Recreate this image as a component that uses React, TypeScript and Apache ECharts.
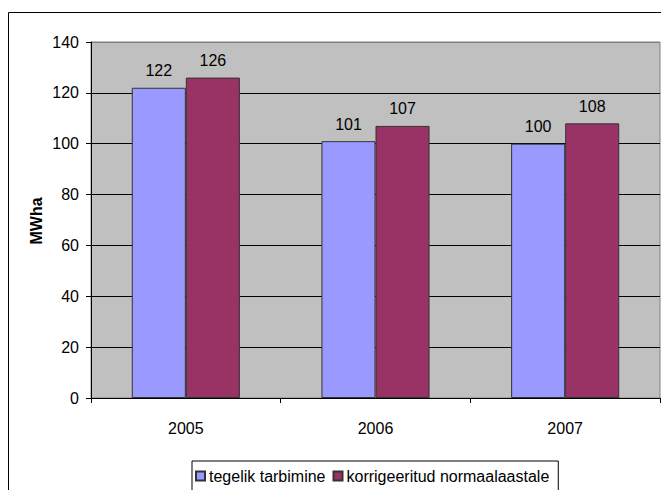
import React, { useEffect, useRef } from "react";
import * as echarts from "echarts";

const categories = ["2005", "2006", "2007"];
const actualValues = [122, 101, 100];
const normalizedValues = [126, 107, 108];
const seriesNames = ["tegelik tarbimine", "korrigeeritud normaalaastale"];
const yTicks = { min: 0, max: 140, interval: 20 };
const yAxisName = "MWha";

const FONT = "'Liberation Sans', Arial, sans-serif";

export default function App() {
  const ref = useRef<HTMLDivElement>(null);
  useEffect(() => {
    if (!ref.current) return;
    const chart = echarts.init(ref.current, null, { renderer: "svg" });
    const labelCfg = {
      show: true,
      position: "top",
      distance: 9,
      color: "#000",
      fontFamily: FONT,
      fontSize: 16,
    };
    chart.setOption({
      animation: false,
      backgroundColor: "#fff",
      textStyle: { fontFamily: FONT },
      graphic: [
        {
          type: "rect",
          shape: { x: 8.5, y: 12.5, width: 700, height: 600 },
          style: { fill: "none", stroke: "#000", lineWidth: 1 },
          z: -10,
          silent: true,
        },
        {
          type: "text",
          x: 36,
          y: 221,
          rotation: Math.PI / 2,
          style: {
            text: yAxisName,
            fontFamily: FONT,
            fontSize: 16,
            fontWeight: "bold",
            fill: "#000",
            align: "center",
            verticalAlign: "middle",
          },
        },
      ],
      grid: {
        left: 91,
        top: 42,
        right: 1,
        bottom: 92,
        show: true,
        backgroundColor: "#C0C0C0",
        borderColor: "#808080",
        borderWidth: 1,
      },
      legend: {
        data: seriesNames,
        left: 192,
        top: 461,
        orient: "horizontal",
        backgroundColor: "#fff",
        borderColor: "#000",
        borderWidth: 1,
        padding: [7, 9, 20, 3],
        itemWidth: 9,
        itemHeight: 9,
        itemGap: 7,
        icon: "rect",
        textStyle: { fontFamily: FONT, fontSize: 16, color: "#000", padding: [0, 0, 0, -1] },
      },
      xAxis: {
        type: "category",
        data: categories,
        axisLine: { lineStyle: { color: "#000", width: 1 } },
        axisTick: { show: true, length: 5, lineStyle: { color: "#000" } },
        axisLabel: { color: "#000", fontFamily: FONT, fontSize: 16, margin: 22 },
      },
      yAxis: {
        type: "value",
        min: yTicks.min,
        max: yTicks.max,
        interval: yTicks.interval,
        axisLine: { show: true, lineStyle: { color: "#000", width: 1 } },
        axisTick: { show: true, length: 5, lineStyle: { color: "#000" } },
        axisLabel: { color: "#000", fontFamily: FONT, fontSize: 16, margin: 12 },
        splitLine: {
          show: true,
          lineStyle: {
            color: ["#000", "#000", "#000", "#000", "#000", "#000", "#000", "#808080"],
            width: 1,
          },
        },
      },
      series: [
        {
          name: seriesNames[0],
          type: "bar",
          data: actualValues,
          barGap: "0%",
          barCategoryGap: "43%",
          itemStyle: { color: "#9999FF", borderColor: "#333", borderWidth: 1 },
          label: labelCfg,
        },
        {
          name: seriesNames[1],
          type: "bar",
          data: normalizedValues,
          itemStyle: { color: "#993366", borderColor: "#333", borderWidth: 1 },
          label: labelCfg,
        },
      ],
    });
    return () => chart.dispose();
  }, []);
  return (
    <div
      ref={ref}
      style={{ position: "fixed", left: 0, top: 0, width: 661, height: 490 }}
    />
  );
}
